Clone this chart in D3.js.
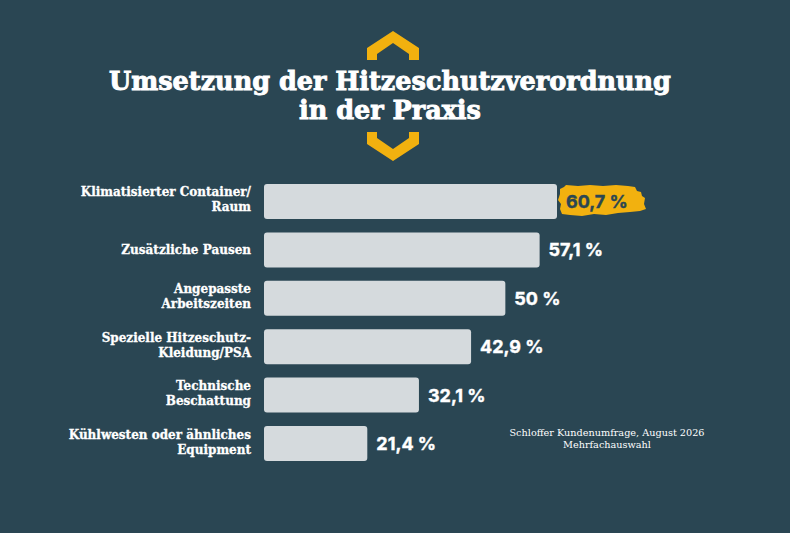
<!DOCTYPE html>
<html>
<head>
<meta charset="utf-8">
<script src="https://cdn.jsdelivr.net/npm/d3@7"></script>
<style>
  html, body { margin: 0; padding: 0; background: #2a4653; }
  svg { display: block; }
</style>
</head>
<body>
<script>
// data
const categories = [
    ["Klimatisierter Container/", "Raum"],
    ["Zusätzliche Pausen"],
    ["Angepasste", "Arbeitszeiten"],
    ["Spezielle Hitzeschutz-", "Kleidung/PSA"],
    ["Technische", "Beschattung"],
    ["Kühlwesten oder ähnliches", "Equipment"]
];
const values = [60.7, 57.1, 50, 42.9, 32.1, 21.4];
const valueLabels = ["60,7 %", "57,1 %", "50 %", "42,9 %", "32,1 %", "21,4 %"];
const titleLines = ["Umsetzung der Hitzeschutzverordnung", "in der Praxis"];
const sourceLines = ["Schloffer Kundenumfrage, August 2026", "Mehrfachauswahl"];

const W = 790, H = 533;
const BG = "#2a4653", BAR = "#d5dadd", YELLOW = "#f2b10f";
const slab = "'DejaVu Serif', serif";

const svg = d3.select("body").append("svg")
    .attr("width", W)
    .attr("height", H);

svg.append("rect").attr("width", W).attr("height", H).attr("fill", BG);

// chevrons round the title
svg.append("path")
    .attr("d", "M367,60 L367,48 L393,31 L419,48 L419,60 L409,60 L409,54 L393,43 L377,54 L377,60 Z")
    .attr("fill", YELLOW);
svg.append("path")
    .attr("d", "M367,132 L377,132 L377,138 L393,149 L409,138 L409,132 L419,132 L419,144 L393,161 L367,144 Z")
    .attr("fill", YELLOW);

svg.selectAll(".title")
    .data(titleLines)
    .join("text")
    .attr("class", "title")
    .attr("x", 390)
    .attr("y", (d, i) => 90 + i * 29)
    .attr("text-anchor", "middle")
    .attr("fill", "#ffffff")
    .attr("stroke", "#ffffff")
    .attr("stroke-width", 0.9)
    .attr("font-family", slab)
    .attr("font-weight", 700)
    .attr("font-size", 25.5)
    .text(d => d);

const x = d3.scaleLinear().domain([0, 60.7]).range([264, 557]);
const y = d3.scaleBand()
    .domain(d3.range(values.length))
    .range([184, 461])
    .paddingInner(0.277)
    .paddingOuter(0);

// bars
svg.selectAll(".bar")
    .data(values)
    .join("rect")
    .attr("class", "bar")
    .attr("x", x(0))
    .attr("y", (d, i) => y(i))
    .attr("width", d => x(d) - x(0))
    .attr("height", y.bandwidth())
    .attr("rx", 3)
    .attr("fill", BAR);

// category labels
const labelG = svg.selectAll(".cat")
    .data(categories)
    .join("text")
    .attr("class", "cat")
    .attr("text-anchor", "end")
    .attr("fill", "#ffffff")
    .attr("stroke", "#ffffff")
    .attr("stroke-width", 0.3)
    .attr("font-family", slab)
    .attr("font-weight", 700)
    .attr("font-size", 12);

labelG.each(function(lines, i) {
    const cy = y(i) + y.bandwidth() / 2;
    const top = cy + 4 - (lines.length - 1) * 9;
    d3.select(this).selectAll("tspan")
        .data(lines)
        .join("tspan")
        .attr("x", 251)
        .attr("y", (d, j) => top + j * 15)
        .text(d => d);
});

// highlight brush behind the top value
const hb = y(0);
const brush = [
    [560, hb + 5], [564, hb + 3], [566, hb + 1], [578, hb + 2], [590, hb + 1], [603, hb + 2],
    [616, hb + 1], [628, hb + 2], [635, hb + 3], [637, hb + 7], [641, hb + 8], [642, hb + 12],
    [645, hb + 14], [644, hb + 20], [646, hb + 25], [640, hb + 27], [630, hb + 28], [618, hb + 29],
    [606, hb + 31], [594, hb + 30], [582, hb + 32], [570, hb + 31], [562, hb + 30], [560, hb + 25],
    [561, hb + 20], [558, hb + 16], [560, hb + 10]
];
svg.append("path")
    .attr("d", d3.line().curve(d3.curveLinearClosed)(brush))
    .attr("fill", YELLOW);

// value labels
svg.selectAll(".val")
    .data(values)
    .join("text")
    .attr("class", "val")
    .attr("x", d => x(d) + 9)
    .attr("y", (d, i) => y(i) + y.bandwidth() / 2)
    .attr("dy", "0.36em")
    .attr("fill", (d, i) => i === 0 ? BG : "#ffffff")
    .attr("stroke", (d, i) => i === 0 ? BG : "#ffffff")
    .attr("stroke-width", 0.4)
    .attr("font-family", "Inter, 'Open Sans', sans-serif")
    .attr("font-weight", 700)
    .attr("font-size", 18)
    .text((d, i) => valueLabels[i]);

// source note
svg.selectAll(".src")
    .data(sourceLines)
    .join("text")
    .attr("class", "src")
    .attr("x", 607)
    .attr("y", (d, i) => 436 + i * 12)
    .attr("text-anchor", "middle")
    .attr("fill", "#ffffff")
    .attr("font-family", slab)
    .attr("font-size", 9.7)
    .text(d => d);
</script>
</body>
</html>
